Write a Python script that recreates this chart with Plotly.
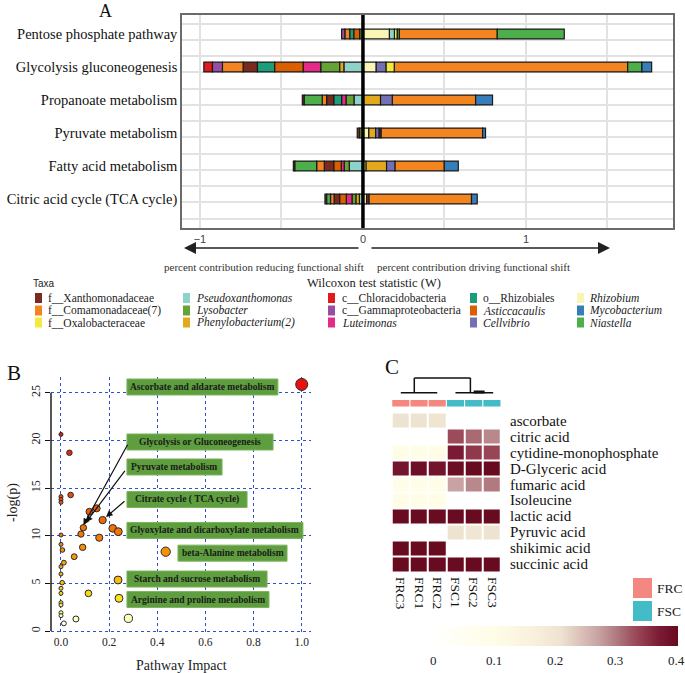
import plotly.graph_objects as go

W, H = 685, 673


def PX(p):
    return p / W


def PY(p):
    return 1 - p / H


SERIF = "Liberation Serif, Times New Roman, serif"
SANS = "Liberation Sans, Arial, sans-serif"

# ---------------- Panel A data ----------------
pathways = ["Pentose phosphate pathway", "Glycolysis gluconeogenesis", "Propanoate metabolism",
            "Pyruvate metabolism", "Fatty acid metabolism", "Citric acid cycle (TCA cycle)"]

# segments listed from zero outward: (taxon, contribution)
pentose_neg = [("Lysobacter", 0.02), ("Asticcacaulis", 0.035), ("Rhizobiales", 0.025),
               ("Comamonadaceae", 0.031), ("Gammaproteobacteria", 0.02)]
pentose_pos = [("Rhizobium", 0.162), ("Pseudoxanthomonas", 0.031), ("Oxalobacteraceae", 0.018),
               ("Lysobacter", 0.012), ("Comamonadaceae", 0.601), ("Niastella", 0.411)]
glycolysis_neg = [("Pseudoxanthomonas", 0.117), ("Phenylobacterium", 0.025), ("Lysobacter", 0.117),
                  ("Luteimonas", 0.108), ("Asticcacaulis", 0.174), ("Rhizobiales", 0.106),
                  ("Xanthomonadaceae", 0.088), ("Comamonadaceae", 0.127),
                  ("Gammaproteobacteria", 0.061), ("Chloracidobacteria", 0.053)]
glycolysis_pos = [("Rhizobium", 0.08), ("Cellvibrio", 0.061), ("Oxalobacteraceae", 0.051),
                  ("Comamonadaceae", 1.432), ("Niastella", 0.086), ("Mycobacterium", 0.061)]
propanoate_neg = [("Pseudoxanthomonas", 0.055), ("Lysobacter", 0.049), ("Luteimonas", 0.027),
                  ("Rhizobiales", 0.047), ("Xanthomonadaceae", 0.045), ("Comamonadaceae", 0.027),
                  ("Niastella", 0.11), ("Xanthomonadaceae", 0.012)]
propanoate_pos = [("Phenylobacterium", 0.108), ("Cellvibrio", 0.072), ("Comamonadaceae", 0.511),
                  ("Mycobacterium", 0.104)]
pyruvate_neg = [("Lysobacter", 0.02), ("Xanthomonadaceae", 0.015)]
pyruvate_pos = [("Rhizobium", 0.035), ("Phenylobacterium", 0.043), ("Cellvibrio", 0.02),
                ("Xanthomonadaceae", 0.014), ("Comamonadaceae", 0.622), ("Mycobacterium", 0.018)]
fatty_neg = [("Pseudoxanthomonas", 0.084), ("Lysobacter", 0.031), ("Luteimonas", 0.018),
             ("Asticcacaulis", 0.045), ("Xanthomonadaceae", 0.059), ("Comamonadaceae", 0.047),
             ("Niastella", 0.133), ("Xanthomonadaceae", 0.01)]
fatty_pos = [("Rhizobium", 0.018), ("Phenylobacterium", 0.127), ("Cellvibrio", 0.051),
             ("Comamonadaceae", 0.303), ("Mycobacterium", 0.086)]
citric_neg = [("Pseudoxanthomonas", 0.022), ("Phenylobacterium", 0.02), ("Lysobacter", 0.025),
              ("Luteimonas", 0.035), ("Asticcacaulis", 0.04), ("Xanthomonadaceae", 0.035),
              ("Comamonadaceae", 0.022), ("Niastella", 0.023), ("Xanthomonadaceae", 0.011)]
citric_pos = [("Rhizobium", 0.022), ("Xanthomonadaceae", 0.016), ("Comamonadaceae", 0.628),
              ("Mycobacterium", 0.035)]

neg_by_path = [pentose_neg, glycolysis_neg, propanoate_neg, pyruvate_neg, fatty_neg, citric_neg]
pos_by_path = [pentose_pos, glycolysis_pos, propanoate_pos, pyruvate_pos, fatty_pos, citric_pos]

taxa_keys = ["Xanthomonadaceae", "Comamonadaceae", "Oxalobacteraceae",
             "Pseudoxanthomonas", "Lysobacter", "Phenylobacterium",
             "Chloracidobacteria", "Gammaproteobacteria", "Luteimonas",
             "Rhizobiales", "Asticcacaulis", "Cellvibrio",
             "Rhizobium", "Mycobacterium", "Niastella"]
taxa_labels = ["f__Xanthomonadaceae", "f__Comamonadaceae(7)", "f__Oxalobacteraceae",
               "<i>Pseudoxanthomonas</i>", "<i>Lysobacter</i>", "<i>Phenylobacterium(2)</i>",
               "c__Chloracidobacteria", "c__Gammaproteobacteria", "<i>Luteimonas</i>",
               "o__Rhizobiales", "<i>Asticcacaulis</i>", "<i>Cellvibrio</i>",
               "<i>Rhizobium</i>", "<i>Mycobacterium</i>", "<i>Niastella</i>"]
taxa_colors = ["#7B2A1E", "#F28520", "#F2EB3D",
               "#8DD3C7", "#66A336", "#E3A81C",
               "#E31A1C", "#984EA3", "#E7298A",
               "#1B9E77", "#D95F02", "#7570B3",
               "#F9F6B5", "#377EB8", "#4DAF4A"]

# ---------------- Panel B data ----------------
impact = [1.0, 0.0, 0.035, 0.0, 0.0, 0.0, 0.04, 0.118, 0.148, 0.093, 0.083, 0.173, 0.215, 0.238,
          0.159, 0.09, 0.055, 0.012, 0.435, 0.237, 0.241, 0.114, 0.28, 0.062, 0.012,
          0.0, 0.0, 0.006, 0.0, 0.0, 0.005, 0.0, 0.0, 0.0, 0.0, 0.0, 0.0]
neglogp = [25.87, 20.63, 18.7, 14.1, 13.8, 13.5, 14.27, 12.52, 12.87, 10.84, 10.17, 11.64, 10.77,
           10.42, 9.79, 8.78, 7.8, 7.17, 8.32, 5.35, 3.43, 3.95, 1.33, 1.26, 0.8,
           10.07, 9.09, 8.5, 6.75, 5.98, 5.07, 4.48, 3.95, 2.97, 2.73, 1.92, 1.61]
b_labels = ["Ascorbate and aldarate metabolism", "Glycolysis or Gluconeogenesis",
            "Pyruvate metabolism", "Citrate cycle ( TCA cycle)",
            "Glyoxylate and dicarboxylate metabolism", "beta-Alanine metabolism",
            "Starch and sucrose metabolism", "Arginine and proline metabolism"]
b_xticks = [0.0, 0.2, 0.4, 0.6, 0.8, 1.0]
b_yticks = [0, 5, 10, 15, 20, 25]

# ---------------- Panel C data ----------------
metabolites = ["ascorbate", "citric acid", "cytidine-monophosphate", "D-Glyceric acid",
               "fumaric acid", "Isoleucine", "lactic acid", "Pyruvic acid",
               "shikimic acid", "succinic acid"]
samples = ["FRC3", "FRC1", "FRC2", "FSC1", "FSC2", "FSC3"]
sample_groups = ["FRC", "FRC", "FRC", "FSC", "FSC", "FSC"]
heat_values = [
    [0.21, 0.21, 0.205, None, None, None],
    [None, None, None, 0.33, 0.31, 0.29],
    [0.1, 0.1, 0.1, 0.37, 0.345, 0.335],
    [0.38, 0.39, 0.382, 0.395, 0.4, 0.4],
    [0.095, 0.095, 0.095, 0.27, 0.29, 0.30],
    [0.1, 0.1, 0.1, None, None, None],
    [0.398, 0.398, 0.398, 0.398, 0.4, 0.4],
    [None, None, None, 0.21, 0.2, 0.21],
    [0.4, 0.4, 0.4, None, None, None],
    [0.4, 0.4, 0.4, 0.398, 0.4, 0.4],
]
cbar_ticks = [0, 0.1, 0.2, 0.3, 0.4]
group_colors = {"FRC": "#F4877F", "FSC": "#43BCC8"}

fig = go.Figure()

# ---------------- Panel A traces ----------------
ypos = {p: 6 - i for i, p in enumerate(pathways)}
seg = {k: {"y": [], "x": [], "base": []} for k in taxa_keys}
for p, negs, poss in zip(pathways, neg_by_path, pos_by_path):
    cum = 0.0
    for taxon, v in negs:
        seg[taxon]["y"].append(ypos[p])
        seg[taxon]["x"].append(v)
        seg[taxon]["base"].append(-(cum + v))
        cum += v
    cum = 0.0
    for taxon, v in poss:
        seg[taxon]["y"].append(ypos[p])
        seg[taxon]["x"].append(v)
        seg[taxon]["base"].append(cum)
        cum += v

for k, col in zip(taxa_keys, taxa_colors):
    if not seg[k]["y"]:
        continue
    fig.add_trace(go.Bar(orientation="h", y=seg[k]["y"], x=seg[k]["x"], base=seg[k]["base"],
                         width=0.3, marker=dict(color=col, line=dict(color="#1a1a1a", width=1.2)),
                         xaxis="x", yaxis="y", showlegend=False, name=k))

# ---------------- Panel B traces ----------------
heat = [[0, "#FFFFFF"], [0.03, "#FFFFEE"], [0.06, "#FFFFA8"], [0.13, "#F7E61E"],
        [0.2, "#F7BE10"], [0.3, "#F69A06"], [0.4, "#F07608"], [0.5, "#EA560C"],
        [0.65, "#E5360E"], [0.8, "#E2180E"], [1, "#E8120E"]]
fig.add_trace(go.Scatter(
    x=impact, y=neglogp, mode="markers", xaxis="x2", yaxis="y2", showlegend=False,
    marker=dict(size=[4 + 8 * v ** 0.5 for v in impact], color=neglogp, colorscale=heat,
                cmin=0, cmax=26, opacity=1, line=dict(color="#2a2a2a", width=1))))

# ---------------- Panel C traces ----------------
cscale = [[0, "#FFFFFF"], [0.25, "#FFFDE6"], [0.42, "#F8F0DC"], [0.525, "#EEE3D0"],
          [0.675, "#C9A3A3"], [0.75, "#B07A80"], [0.825, "#9C4B5B"], [0.925, "#7B1A34"],
          [1, "#680A20"]]
fig.add_trace(go.Heatmap(
    z=heat_values, x=samples, y=metabolites, xaxis="x3", yaxis="y3",
    colorscale=cscale, zmin=0, zmax=0.4, xgap=2, ygap=2, hoverongaps=False,
    colorbar=dict(orientation="h", x=PX(555), xanchor="center", y=PY(636), yanchor="middle",
                  len=246 / W, lenmode="fraction", thickness=20, xpad=0, ypad=0,
                  outlinewidth=0, showticklabels=False, ticks="")))

grid_a = [6.31 - 0.492 * k for k in range(13)]

fig.update_layout(
    width=W, height=H, margin=dict(l=0, r=0, t=0, b=0),
    paper_bgcolor="white", plot_bgcolor="white", barmode="overlay",
    font=dict(family=SERIF, color="#111"),
    xaxis=dict(domain=[PX(182), PX(673)], range=[-1.110, 1.902], anchor="y",
               tickvals=[-1, -0.5, 0, 0.5, 1, 1.5], ticktext=["\u22121", "", "0", "", "1", ""],
               showgrid=True, gridcolor="#E2E2E2", gridwidth=1.5, zeroline=False,
               showline=True, mirror=True, linecolor="#6b6b6b", linewidth=1.5, ticks="",
               tickfont=dict(family=SANS, size=11, color="#444")),
    yaxis=dict(domain=[PY(228), PY(15)], range=[0.121, 6.576], anchor="x",
               tickvals=[ypos[p] for p in pathways], ticktext=pathways, showgrid=False,
               minor=dict(tickmode="array", tickvals=grid_a, showgrid=True,
                          gridcolor="#E2E2E2", gridwidth=1.5, ticks=""),
               zeroline=False, showline=True, mirror=True, linecolor="#6b6b6b", linewidth=1.5,
               ticks="", tickfont=dict(family=SERIF, size=14.5, color="#111")),
    xaxis2=dict(domain=[PX(51), PX(311)], range=[-0.0415, 1.0386], anchor="y2",
                tickvals=b_xticks, ticktext=["%.1f" % v for v in b_xticks],
                showgrid=True, gridcolor="#3050D0", griddash="dot", gridwidth=1.4,
                zeroline=False, showline=False, ticks="",
                tickfont=dict(family=SERIF, size=11.5, color="#222")),
    yaxis2=dict(domain=[PY(633), PY(377)], range=[-0.21, 26.65], anchor="x2",
                tickvals=b_yticks, showgrid=True, gridcolor="#3050D0", griddash="dot",
                gridwidth=1.4, zeroline=False, showline=False, ticks="outside", ticklen=5,
                tickcolor="#111", tickwidth=1.2, tickangle=-90,
                tickfont=dict(family=SERIF, size=12, color="#222")),
    xaxis3=dict(domain=[PX(391.7), PX(501)], range=[-0.5, 5.5], anchor="y3",
                tickmode="array", tickvals=samples,
                showgrid=False, zeroline=False, ticks="", tickangle=90, ticklabelstandoff=4,
                tickfont=dict(family=SERIF, size=13.5, color="#111")),
    yaxis3=dict(domain=[PY(572), PY(412.5)], autorange="reversed", anchor="x3", side="right",
                tickmode="array", tickvals=metabolites,
                showgrid=False, zeroline=False, ticks="", ticklabelstandoff=8,
                tickfont=dict(family=SERIF, size=15, color="#111")),
)

shapes = []
annotations = []


def txt(x, y, text, size, family=SERIF, xanchor="center", color="#222", angle=0):
    annotations.append(dict(xref="paper", yref="paper", x=PX(x), y=PY(y), text=text,
                            xanchor=xanchor, yanchor="middle", showarrow=False,
                            textangle=angle, font=dict(family=family, size=size, color=color)))


# Panel A zero line
shapes.append(dict(type="line", xref="x", yref="y domain", x0=0, x1=0, y0=0, y1=1,
                   line=dict(color="black", width=3.5)))

# Panel A arrows & captions
annotations.append(dict(xref="paper", yref="paper", x=PX(184), y=PY(248), ax=176, ay=0,
                        text="", showarrow=True, arrowhead=2, arrowsize=1.5, arrowwidth=1.6,
                        arrowcolor="#222"))
annotations.append(dict(xref="paper", yref="paper", x=PX(610), y=PY(248), ax=-240, ay=0,
                        text="", showarrow=True, arrowhead=2, arrowsize=1.5, arrowwidth=1.6,
                        arrowcolor="#222"))
txt(366, 267, "percent contribution reducing functional shift", 11, xanchor="right", color="#333")
txt(375, 267, "percent contribution driving functional shift", 11, xanchor="left", color="#333")

# Panel labels
annotations.append(dict(xref="paper", yref="paper", x=PX(105), y=PY(0), text="A",
                        xanchor="center", yanchor="top", showarrow=False, borderpad=0,
                        font=dict(family=SERIF, size=18, color="#111")))
txt(14, 373, "B", 21, color="#111")
txt(392, 367, "C", 21, color="#111")

# Legend of taxa
txt(31, 283, "Taxa", 10, family=SANS, xanchor="left")
txt(374, 283, "Wilcoxon test statistic (W)", 12.5)
col_sq = [35, 183, 328, 470, 577]
col_tx = [46, 194, 340, 481, 587]
row_y = [298, 310.5, 322.5]
for i, (lab, col) in enumerate(zip(taxa_labels, taxa_colors)):
    c, r = divmod(i, 3)
    yy = row_y[r]
    shapes.append(dict(type="rect", xref="paper", yref="paper",
                       x0=PX(col_sq[c]), x1=PX(col_sq[c] + 7), y0=PY(yy + 5), y1=PY(yy - 5),
                       fillcolor=col, line=dict(width=0)))
    txt(col_tx[c], yy, lab, 11.5, xanchor="left")

# Panel B: y spine, axis titles, labels, arrows
shapes.append(dict(type="line", xref="x2 domain", yref="y2", x0=0, x1=0, y0=0, y1=25,
                   line=dict(color="#111", width=1.4)))
txt(181, 665, "Pathway Impact", 14)
txt(13, 503, "-log(p)", 14, angle=-90)
box_x0 = [0.274, 0.274, 0.274, 0.274, 0.274, 0.486, 0.274, 0.274]
box_x1 = [0.901, 0.881, 0.669, 0.773, 1.005, 0.939, 0.856, 0.864]
box_yc = [25.6, 19.83, 17.21, 13.8, 10.55, 8.17, 5.45, 3.3]
for lab, x0, x1, yc in zip(b_labels, box_x0, box_x1, box_yc):
    shapes.append(dict(type="rect", xref="x2", yref="y2", x0=x0, x1=x1, y0=yc - 0.84,
                       y1=yc + 0.84, fillcolor="#5E9E3E", line=dict(color="#7DB35E", width=1)))
    annotations.append(dict(xref="x2", yref="y2", x=(x0 + x1) / 2, y=yc, text="<b>%s</b>" % lab,
                            showarrow=False, xanchor="center", yanchor="middle",
                            font=dict(family=SERIF, size=9.5, color="#1a1a1a")))
arrows_b = [((0.28, 19.7), (0.093, 11.1)), ((0.27, 16.96), (0.104, 11.4)),
            ((0.27, 13.74), (0.187, 11.95))]
for (tx, ty), (hx, hy) in arrows_b:
    annotations.append(dict(xref="x2", yref="y2", axref="x2", ayref="y2", x=hx, y=hy,
                            ax=tx, ay=ty, text="", showarrow=True, arrowhead=2, arrowsize=1.1,
                            arrowwidth=1.2, arrowcolor="#111"))

# Panel C: group bar, dendrogram, legend, colorbar labels
for i, g in enumerate(sample_groups):
    shapes.append(dict(type="rect", xref="x3", yref="paper", x0=i - 0.47, x1=i + 0.47,
                       y0=PY(406.5), y1=PY(400), fillcolor=group_colors[g], line=dict(width=0)))
dend = [((0, 392.7), (2, 392.7)), ((0.74, 392.7), (0.74, 378)), ((3.0, 392.7), (5.07, 392.7)),
        ((3.82, 392.7), (3.82, 378)), ((0.74, 378), (3.82, 378))]
for (xa, ya), (xb, yb) in dend:
    shapes.append(dict(type="line", xref="x3", yref="paper", x0=xa, x1=xb, y0=PY(ya), y1=PY(yb),
                       line=dict(color="#111", width=1.5)))
shapes.append(dict(type="line", xref="x3", yref="paper", x0=4.0, x1=4.6, y0=PY(392),
                   y1=PY(392), line=dict(color="#111", width=3)))
for (g, y0) in [("FRC", 578), ("FSC", 601)]:
    shapes.append(dict(type="rect", xref="paper", yref="paper", x0=PX(633), x1=PX(652),
                       y0=PY(y0 + 20), y1=PY(y0), fillcolor=group_colors[g], line=dict(width=0)))
    txt(655, y0 + 10, g, 13.5, xanchor="left")
cbar_x0, cbar_x1 = 433, 676
for v in cbar_ticks:
    xx = cbar_x0 + (cbar_x1 - cbar_x0) * v / 0.4
    txt(xx, 660, "0" if v == 0 else "%.1f" % v, 13)

fig.update_layout(shapes=shapes, annotations=annotations)

fig.write_html("out.html", config={"displayModeBar": False},
               post_script="document.body.style.margin='0';")
